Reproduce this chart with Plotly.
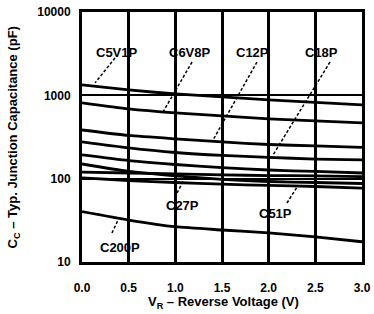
import math
import plotly.graph_objects as go

# Reverse voltage (V)
voltage = [0.0, 0.5, 1.0, 1.5, 2.0, 2.5, 3.0]

# Typical junction capacitance (pF)
c5v1p = [1334, 1161, 1039, 957, 881, 822, 767]
c6v8p = [811, 687, 615, 566, 521, 493, 466]
c12p = [384, 330, 300, 276, 257, 247, 237]
c18p = [276, 234, 206, 190, 180, 172, 168]
c_mid = [193, 165, 148, 136, 127, 122, 117]
c27p = [150, 122, 108, 98, 92.5, 90, 87.5]
c_flat = [120, 117, 114, 111, 109, 108, 106]
c51p = [102, 95, 90, 86, 83, 80.5, 77]
c200p = [40.2, 31.9, 26.5, 24.2, 22.3, 20.0, 17.5]

series = [c5v1p, c6v8p, c12p, c18p, c_mid, c27p, c_flat, c51p, c200p]

# Curve labels: text, text position, leader start, leader tip
label_text = ["C5V1P", "C6V8P", "C12P", "C18P", "C27P", "C51P", "C200P"]
label_x = [0.375, 1.157, 1.832, 2.571, 1.082, 2.068, 0.407]
label_y = [3300, 3300, 3300, 3300, 48.3, 38.7, 15.1]
lead_x0 = [0.354, 1.179, 1.875, 2.657, 1.018, 2.196, 0.321]
lead_y0 = [2806, 2512, 2512, 2512, 67.3, 51.0, 22.3]
lead_x1 = [0.14, 0.868, 1.404, 2.046, 1.114, 2.304, 0.386]
lead_y1 = [1410, 631, 291, 192, 107.6, 79.4, 31.9]

x_ticks = [0.0, 0.5, 1.0, 1.5, 2.0, 2.5, 3.0]
x_tick_text = ["0.0", "0.5", "1.0", "1.5", "2.0", "2.5", "3.0"]
y_ticks = [10, 100, 1000, 10000]
y_tick_text = ["10", "100", "1000", "10000"]

FONT = "Liberation Sans"

fig = go.Figure()
for s in series:
    fig.add_trace(go.Scatter(x=voltage, y=s, mode="lines",
                             line=dict(color="black", width=2.8, shape="spline", smoothing=0.6),
                             showlegend=False, hoverinfo="skip"))

for i in range(len(label_text)):
    fig.add_trace(go.Scatter(x=[lead_x0[i], lead_x1[i]], y=[lead_y0[i], lead_y1[i]],
                             mode="lines", line=dict(color="black", width=1.5, dash="3px,2px"),
                             showlegend=False, hoverinfo="skip"))
    fig.add_annotation(x=label_x[i], y=math.log10(label_y[i]), text="<b>%s</b>" % label_text[i],
                       showarrow=False, xanchor="center", yanchor="middle",
                       font=dict(family=FONT, size=13, color="black"))

fig.add_annotation(xref="paper", yref="paper", x=0.507, y=-0.163,
                   text="<b>V<sub>R</sub> – Reverse Voltage (V)</b>", showarrow=False,
                   xanchor="center", yanchor="middle",
                   font=dict(family=FONT, size=13, color="black"))
fig.add_annotation(xref="paper", yref="paper", x=-0.245, y=0.50,
                   text="<b>C<sub>C</sub> – Typ. Junction Capacitance (pF)</b>", showarrow=False,
                   textangle=-90, xanchor="center", yanchor="middle",
                   font=dict(family=FONT, size=13, color="black"))

fig.update_xaxes(range=[0, 3], tickvals=x_ticks, ticktext=x_tick_text,
                 showgrid=True, gridcolor="black", gridwidth=2.5,
                 showline=True, linecolor="black", linewidth=3, mirror=True,
                 ticks="", ticklabelstandoff=13, zeroline=False, automargin=False,
                 tickfont=dict(family=FONT, size=12, color="black", weight="bold"))
fig.update_yaxes(type="log", range=[1, 4], tickvals=y_ticks, ticktext=y_tick_text,
                 showgrid=True, gridcolor="black", gridwidth=1.5,
                 showline=True, linecolor="black", linewidth=3, mirror=True,
                 ticks="", ticklabelstandoff=6, zeroline=False, automargin=False,
                 tickfont=dict(family=FONT, size=12, color="black", weight="bold"))

fig.update_layout(width=374, height=314, margin=dict(l=82, r=12, t=12, b=52, autoexpand=False),
                  paper_bgcolor="white", plot_bgcolor="white")

fig.write_html("out.html", config={"responsive": False, "displayModeBar": False},
               post_script="document.body.style.margin='0';document.body.style.overflow='hidden';")
